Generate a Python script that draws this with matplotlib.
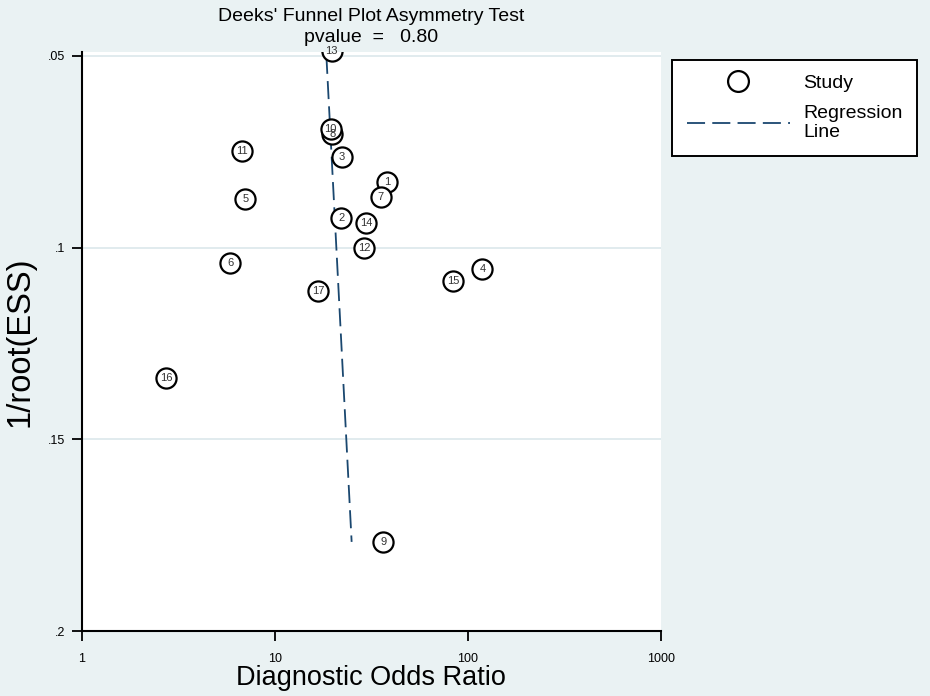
import matplotlib
matplotlib.use('Agg')
from matplotlib import pyplot as plt
from matplotlib.lines import Line2D

plt.rcParams['font.family'] = ['Liberation Sans', 'DejaVu Sans']

# study id, diagnostic odds ratio, 1/sqrt(effective sample size)
study_ids = [1, 2, 3, 4, 5, 6, 7, 8, 9, 10, 11, 12, 13, 14, 15, 16, 17]
dor = [38.1, 22.1, 22.2, 118.8, 7.04, 5.88, 35.4, 19.86, 36.5, 19.47,
       6.74, 29.0, 19.71, 29.8, 84.0, 2.73, 16.8]
inv_root_ess = [0.0829, 0.0922, 0.0765, 0.1056, 0.0872, 0.1039, 0.0867, 0.0704,
                0.1767, 0.0690, 0.0747, 0.1002, 0.0487, 0.0936, 0.1086, 0.1340, 0.1113]

# fitted regression line end points
reg_dor = [18.5, 25.0]
reg_y = [0.0500, 0.1767]

x_ticks = [1, 10, 100, 1000]
x_tick_labels = ['1', '10', '100', '1000']
y_ticks = [0.05, 0.1, 0.15, 0.2]
y_tick_labels = ['.05', '.1', '.15', '.2']

bg = '#EAF2F3'
navy = '#1A476F'
dash = (10, 4)

fig = plt.figure(figsize=(9.3, 6.96), dpi=100, facecolor=bg)
ax = fig.add_axes([0.0878, 0.093, 0.623, 0.8323])
ax.set_facecolor('white')

ax.set_xscale('log')
ax.set_xlim(1, 1000)
ax.set_ylim(0.2, 0.049)

for yt in y_ticks:
    ax.axhline(yt, color='#DCE7EB', linewidth=1.2, zorder=0)

ax.plot(reg_dor, reg_y, color=navy, linewidth=1.3, dashes=dash, zorder=2)

ax.scatter(dor, inv_root_ess, s=210, facecolors='white', edgecolors='black',
           linewidths=1.6, zorder=3)
for sid, xv, yv in zip(study_ids, dor, inv_root_ess):
    ax.text(xv, yv, str(sid), ha='center', va='center', fontsize=8,
            color='#333333', zorder=4)

for side in ['top', 'right']:
    ax.spines[side].set_visible(False)
for side in ['left', 'bottom']:
    ax.spines[side].set_linewidth(1.5)

ax.set_xticks(x_ticks)
ax.set_xticklabels(x_tick_labels)
ax.minorticks_off()
ax.set_yticks(y_ticks)
ax.set_yticklabels(y_tick_labels)
ax.tick_params(axis='both', direction='out', length=7, width=1.3, labelsize=9, pad=5)
ax.tick_params(axis='x', pad=9)

ax.set_xlabel('Diagnostic Odds Ratio', fontsize=19.5, labelpad=0)
ax.set_ylabel('1/root(ESS)', fontsize=23.5, labelpad=9)

fig.text(0.399, 0.976, "Deeks' Funnel Plot Asymmetry Test", ha='center', va='center', fontsize=14)
fig.text(0.399, 0.946, 'pvalue  =   0.80', ha='center', va='center', fontsize=14)

handles = [
    Line2D([], [], linestyle='none', marker='o', markersize=15, markerfacecolor='white',
           markeredgecolor='black', markeredgewidth=1.6),
    Line2D([], [], color=navy, linewidth=1.3, dashes=dash),
]
leg = fig.legend(handles, ['Study', 'Regression\nLine'], loc='upper left',
                 bbox_to_anchor=(672 / 930, 1 - 60 / 696), fontsize=14,
                 frameon=True, fancybox=False, edgecolor='black', facecolor='white',
                 framealpha=1, handlelength=5.3, handletextpad=0.7, borderpad=0.75,
                 labelspacing=0.65, borderaxespad=0)
leg.get_frame().set_linewidth(1.4)

plt.savefig('out.png', dpi=100, facecolor=bg)
